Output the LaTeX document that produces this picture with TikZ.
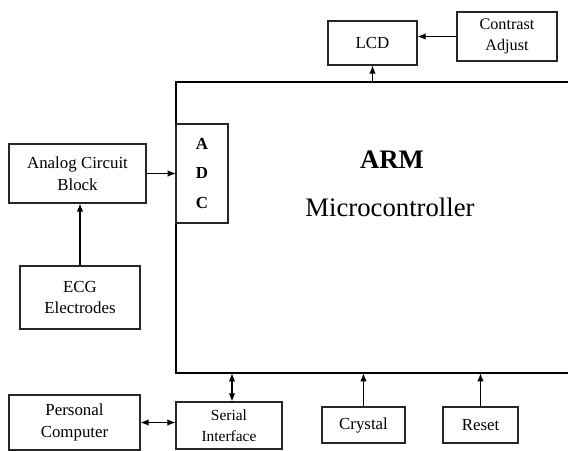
\documentclass[tikz,border=0pt]{standalone}
\usepackage{fontspec}
\setmainfont{Liberation Serif}
\usetikzlibrary{arrows.meta,positioning,calc}
\def\pxu{0.025cm}
\tikzset{
  blockbox/.style={draw=black!85,line width=0.8pt,inner sep=0pt,align=center,
    font=\fontsize{12}{15.5}\selectfont},
  conn/.style={line width=0.8pt,-{Latex[length=2mm,width=1.6mm]}},
  biconn/.style={line width=0.8pt,{Latex[length=2mm,width=1.6mm]}-{Latex[length=2mm,width=1.6mm]}}
}
\begin{document}
\begin{tikzpicture}[x=0.025cm,y=-0.025cm]
    \useasboundingbox (0,0) rectangle (568,451);
    % microcontroller body, right side runs off the page
    \node[inner sep=0pt,minimum width=392*\pxu,minimum height=291*\pxu] (arm) at (372,227.5) {};
    \draw[line width=1.2pt] (arm.north east) -- (arm.north west) -- (arm.south west) -- (arm.south east);
    \node[font=\fontsize{19}{22}\selectfont\bfseries] (armtitle) at (392,160) {ARM};
    \node[font=\fontsize{19}{22}\selectfont] (armsub) at (390,207) {Microcontroller};
    \node[blockbox,minimum width=52*\pxu,minimum height=99*\pxu,font=\fontsize{12}{21}\selectfont\bfseries] (adc) at (202,173.5) {A\\D\\C};
    % peripheral blocks
    \node[blockbox,minimum width=89*\pxu,minimum height=44*\pxu] (lcd) at (372.5,43) {LCD};
    \node[blockbox,minimum width=100*\pxu,minimum height=49*\pxu,font=\fontsize{11.5}{15}\selectfont] (contrast) at (507,36.5) {Contrast\\Adjust};
    \node[blockbox,minimum width=137*\pxu,minimum height=59*\pxu] (analog) at (77.5,173.5) {Analog Circuit\\Block};
    \node[blockbox,minimum width=120*\pxu,minimum height=63*\pxu] (ecg) at (80,297.5) {ECG\\Electrodes};
    \node[blockbox,minimum width=131*\pxu,minimum height=55*\pxu] (pc) at (74.5,422.5) {Personal\\Computer};
    \node[blockbox,minimum width=106*\pxu,minimum height=47*\pxu,font=\fontsize{11}{15}\selectfont] (serial) at (229,425.5) {Serial\\Interface};
    \node[blockbox,minimum width=83*\pxu,minimum height=36*\pxu] (crystal) at (363.5,425) {Crystal};
    \node[blockbox,minimum width=75*\pxu,minimum height=36*\pxu] (reset) at (480.5,425) {Reset};
    % connections
    \draw[conn] (lcd.south |- arm.north) -- (lcd.south);
    \draw[conn] (contrast.west) -- (contrast.west -| lcd.east);
    \draw[conn] (analog.east) -- (analog.east -| arm.west);
    \draw[conn] (ecg.north) -- (ecg.north |- analog.south);
    \draw[biconn] ([xshift=3*\pxu]serial.north) -- ([xshift=3*\pxu]serial.north |- arm.south);
    \draw[biconn] (pc.east) -- (pc.east -| serial.west);
    \draw[conn] (crystal.north) -- (crystal.north |- arm.south);
    \draw[conn] (reset.north) -- (reset.north |- arm.south);
\end{tikzpicture}
\end{document}
